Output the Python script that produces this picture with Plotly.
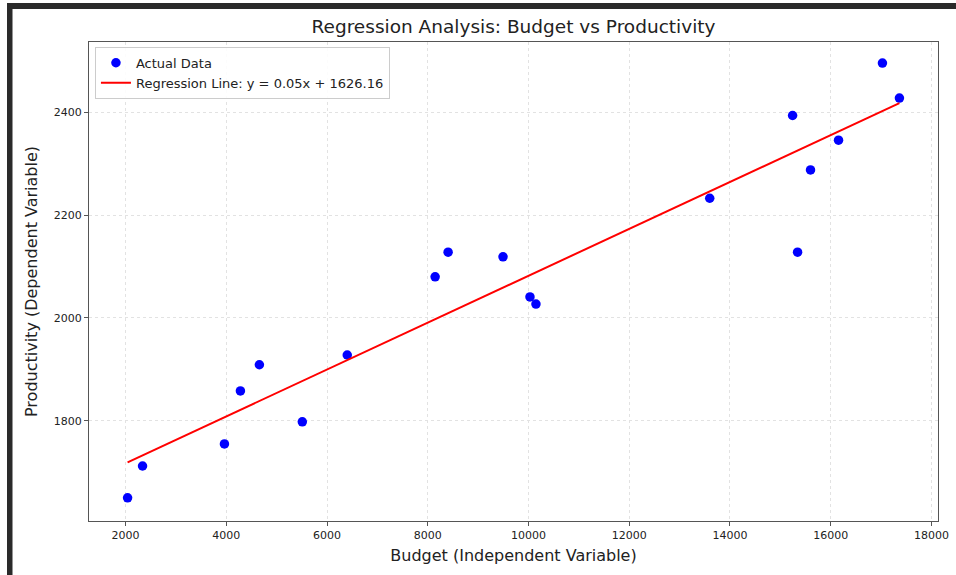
import numpy as np
import plotly.graph_objects as go

# Observed budget / productivity pairs
budget = [2040, 2337, 3963, 4280, 4657, 5509, 6401, 8146, 8404, 9494,
          10029, 10148, 13598, 15243, 15342, 15599, 16155, 17027, 17364]
productivity = [1650, 1712, 1755, 1858, 1909, 1798, 1928, 2080, 2128, 2119,
                2041, 2027, 2233, 2394, 2128, 2288, 2346, 2496, 2428]

# Fitted regression coefficients
slope = 0.0456
intercept = 1626.16

x_ticks = [2000, 4000, 6000, 8000, 10000, 12000, 14000, 16000, 18000]
y_ticks = [1800, 2000, 2200, 2400]

x_line = np.sort(np.array(budget, dtype=float))
y_line = slope * x_line + intercept

FONT = "DejaVu Sans"
TXT = "#222222"

fig = go.Figure()
fig.add_trace(go.Scatter(
    x=budget, y=productivity, mode="markers", name="Actual Data",
    marker=dict(color="#0000ff", size=9.5, line=dict(width=0)),
))
fig.add_trace(go.Scatter(
    x=x_line, y=y_line, mode="lines",
    name=f"Regression Line: y = {slope:.2f}x + {intercept:.2f}",
    line=dict(color="#ff0000", width=2),
))

axis_common = dict(
    showline=True, linecolor="#555555", linewidth=1, mirror=True,
    ticks="outside", ticklen=4, tickcolor="#555555",
    showgrid=True, gridcolor="#e2e2e2", griddash="dot", gridwidth=1,
    zeroline=False, automargin=False,
    tickfont=dict(family=FONT, size=11, color=TXT),
)

fig.update_layout(
    width=956, height=575,
    margin=dict(l=89, r=18, t=42, b=54),
    paper_bgcolor="white", plot_bgcolor="white",
    title=dict(text="Regression Analysis: Budget vs Productivity",
               x=(89 + 938) / 2 / 956, xanchor="center",
               y=1 - 27 / 575, yanchor="middle",
               font=dict(family=FONT, size=18.5, color=TXT)),
    xaxis=dict(range=[1274, 18130], tickvals=x_ticks,
               ticktext=[str(v) for v in x_ticks],
               title=dict(text="Budget (Independent Variable)", standoff=8,
                          font=dict(family=FONT, size=16, color=TXT)),
               **axis_common),
    yaxis=dict(range=[1605, 2537], tickvals=y_ticks,
               ticktext=[str(v) for v in y_ticks],
               title=dict(text="Productivity (Dependent Variable)", standoff=12,
                          font=dict(family=FONT, size=16, color=TXT)),
               **axis_common),
    legend=dict(x=0.007, y=0.99, xanchor="left", yanchor="top",
                bgcolor="rgba(255,255,255,0.9)", bordercolor="#cccccc",
                borderwidth=1, font=dict(family=FONT, size=13, color=TXT),
                tracegroupgap=0),
    showlegend=True,
)

# Dark frame along the top and left edges of the page
pw, ph = 956 - 89 - 18, 575 - 42 - 54
def px(xp):
    return (xp - 89) / pw
def py(yp):
    return (575 - 54 - yp) / ph

fig.add_shape(type="rect", xref="paper", yref="paper",
              x0=px(7), x1=px(956), y0=py(9), y1=py(3),
              fillcolor="#2a2a2a", line=dict(width=0), layer="above")
fig.add_shape(type="rect", xref="paper", yref="paper",
              x0=px(7), x1=px(12.5), y0=py(575), y1=py(3),
              fillcolor="#2a2a2a", line=dict(width=0), layer="above")

fig.write_html("out.html")
